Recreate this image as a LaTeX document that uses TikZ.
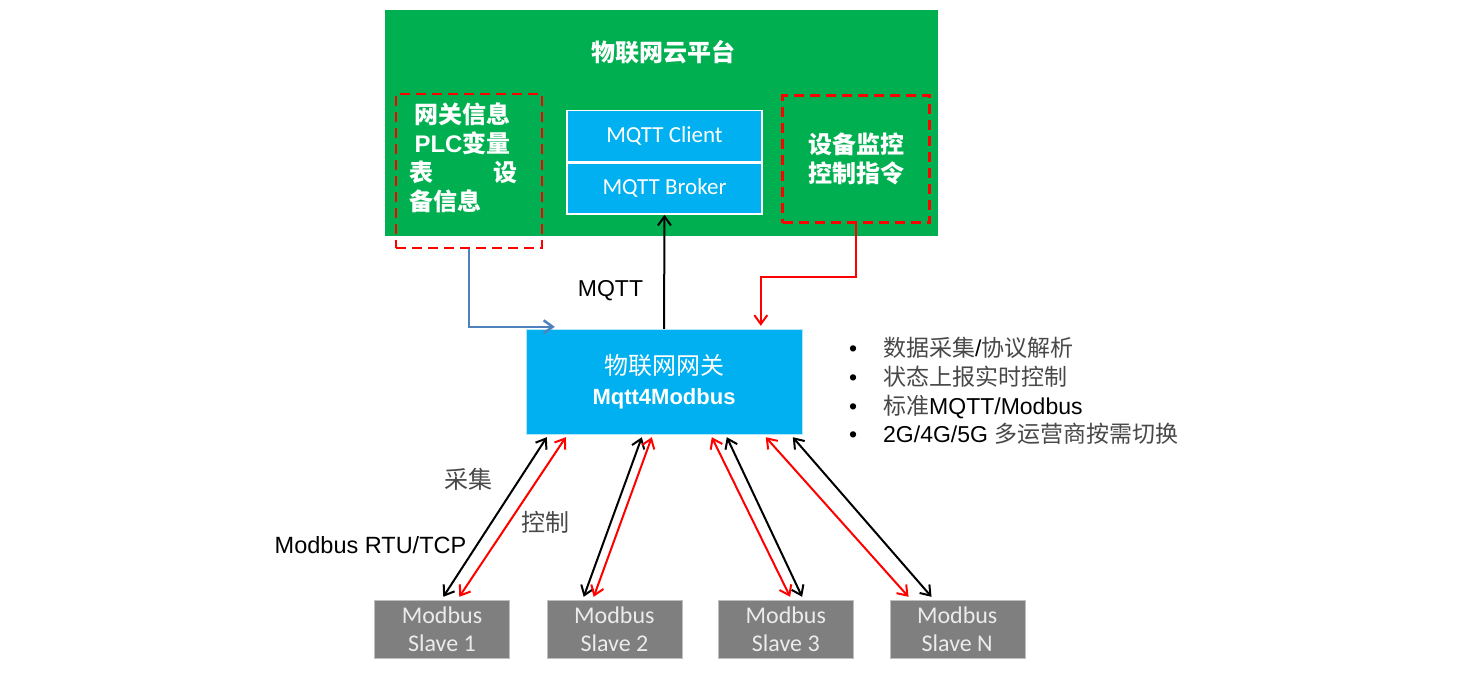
\documentclass[tikz,border=0pt]{standalone}
\usepackage{fontspec}
\setmainfont{Liberation Sans}
\newfontfamily\cjk{Noto Sans CJK SC}
\newfontfamily\calibri{Carlito}
\usetikzlibrary{positioning}
\usetikzlibrary{arrows.meta}
\definecolor{iotgreen}{RGB}{0,176,80}
\definecolor{iotblue}{RGB}{0,176,240}
\definecolor{iotgray}{RGB}{127,127,127}
\definecolor{linkblue}{RGB}{79,129,189}
\definecolor{textgray}{RGB}{72,72,72}
\newcommand{\zh}[1]{{\cjk #1}}
\newcommand{\gzh}[1]{{\cjk\color{textgray}#1}}
\tikzset{every node/.style={align=center, inner sep=0pt},
  mqttbox/.style={ % the two boxes inside the cloud
    draw=white, line width=1.5pt, fill=iotblue, text=white,
    minimum width=195pt, minimum height=51pt,
    font=\calibri\fontsize{23}{28}\selectfont},
  infobox/.style={ % red dashed frames
    draw=red, line width=2.5pt, dash pattern=on 10pt off 6pt},
  slave/.style={
    draw=black!25, fill=iotgray, text=white!92!black,
    minimum width=135pt, minimum height=58pt,
    font=\calibri\fontsize{24}{28}\selectfont},
  link/.style={draw, <->, line width=2pt},
  >={Straight Barb[length=9pt,width=13pt]}}

\begin{document}
\begin{tikzpicture}[x=1pt, y=-1pt]
  \useasboundingbox (0,0) rectangle (1482,681);

  % cloud platform
  \node [fill=iotgreen, minimum width=553pt, minimum height=226pt] (cloud) at (661.5,123) {};
  \node [text=white, font=\cjk\bfseries\fontsize{24}{29}\selectfont] (title) at (663,52) {物联网云平台};

  \node [mqttbox] (client) at (664.5,136) {MQTT Client};
  \node [mqttbox, below=0pt of client] (broker) {MQTT Broker};

  \node [infobox, minimum width=146pt, minimum height=154pt] (info) at (469,171) {};
  \node [text=white, text width=108pt, align=left,
         font=\bfseries\fontsize{24}{29}\selectfont] (infotext) at (463.5,158) {
    \hspace*{5pt}\zh{网关信息}\\
    \hspace*{5pt}PLC\zh{变量}\\
    \zh{表}\hfill\zh{设}\\
    \zh{备信息}};

  \node [infobox, minimum width=147pt, minimum height=127pt, text=white,
         font=\cjk\bfseries\fontsize{24}{29}\selectfont] (cmd) at (856,159) {
    设备监控\\
    控制指令};

  % gateway
  \node [fill=iotblue, draw=white!70!iotblue, minimum width=276pt, minimum height=105pt,
         text=white, font=\fontsize{24}{30}\selectfont] (gw) at (664,381.5) {
    \zh{物联网网关}\\
    {\bfseries\fontsize{22}{30}\selectfont Mqtt4Modbus}};

  \node [anchor=west, align=left, font=\fontsize{23}{28.6}\selectfont] (feat) at (849,391) {
    \makebox[34pt][l]{\textbullet}\gzh{数据采集}/\gzh{协议解析}\\
    \makebox[34pt][l]{\textbullet}\gzh{状态上报实时控制}\\
    \makebox[34pt][l]{\textbullet}\gzh{标准}MQTT/Modbus\\
    \makebox[34pt][l]{\textbullet}2G/4G/5G \gzh{多运营商按需切换}};

  % cloud <-> gateway
  \node [font=\fontsize{23}{28}\selectfont] (mqtt) at (610.5,291) {MQTT};
  \draw [->, line width=2pt] (gw.north) -- (broker.south);
  \draw [->, red, line width=2pt] (cmd.south) -- ++(0,53) -| ([xshift=235pt,yshift=3pt]gw.north west);
  \draw [->, linkblue, line width=2.5pt] (info.south) |- ([xshift=29pt,yshift=2pt]gw.north west);

  % slaves
  \node [slave] (s1) at (442,629) {Modbus\\Slave 1};
  \node [slave, right=37pt of s1] (s2) {Modbus\\Slave 2};
  \node [slave, right=36pt of s2] (s3) {Modbus\\Slave 3};
  \node [slave, right=36pt of s3] (sn) {Modbus\\Slave N};

  % gateway <-> slaves
  \draw [link] ([xshift=21pt,yshift=-3pt]gw.south west) -- ([xshift=69pt,yshift=3pt]s1.north west);
  \draw [link, red] ([xshift=40pt,yshift=-3pt]gw.south west) -- ([xshift=85pt,yshift=3pt]s1.north west);

  \draw [link] ([xshift=116pt,yshift=-3pt]gw.south west) -- ([xshift=37pt,yshift=3pt]s2.north west);
  \draw [link, red] ([xshift=126pt,yshift=-3pt]gw.south west) -- ([xshift=47pt,yshift=3pt]s2.north west);

  \draw [link, red] ([xshift=186pt,yshift=-3pt]gw.south west) -- ([xshift=72pt,yshift=3pt]s3.north west);
  \draw [link] ([xshift=201pt,yshift=-3pt]gw.south west) -- ([xshift=84pt,yshift=3pt]s3.north west);

  \draw [link, red] ([xshift=240pt,yshift=-3pt]gw.south west) -- ([xshift=19pt,yshift=3pt]sn.north west);
  \draw [link] ([xshift=267pt,yshift=-3pt]gw.south west) -- ([xshift=42pt,yshift=3pt]sn.north west);

  \node [text=textgray, font=\cjk\fontsize{24}{29}\selectfont] (collect) at (468,479) {采集};
  \node [text=textgray, font=\cjk\fontsize{24}{29}\selectfont] (control) at (545,522) {控制};
  \node [font=\fontsize{23.5}{28}\selectfont] (rtu) at (370.5,545) {Modbus RTU/TCP};

\end{tikzpicture}
\end{document}
